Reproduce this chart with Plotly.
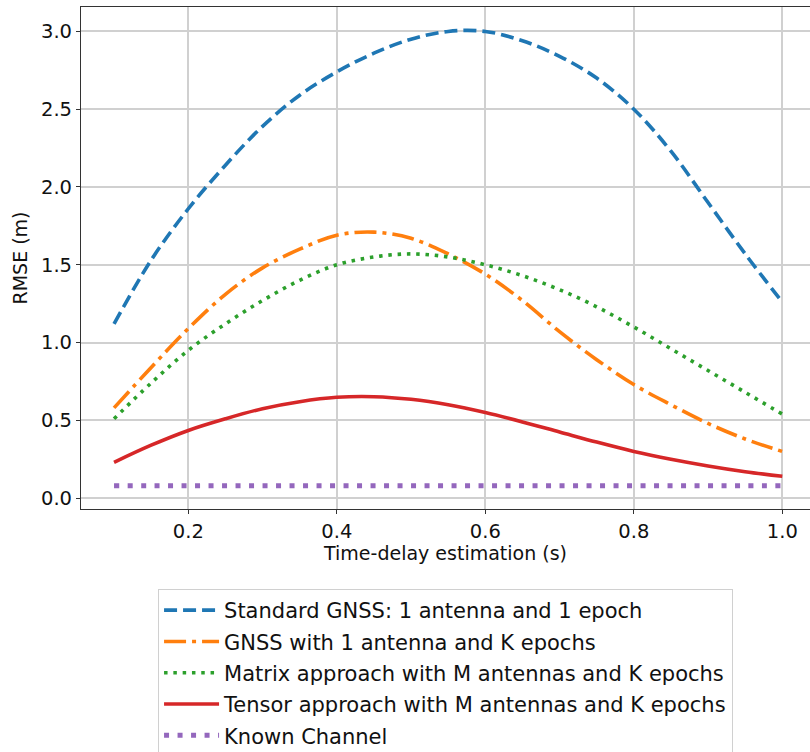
import plotly.graph_objects as go

x_vals = [0.10, 0.15, 0.20, 0.25, 0.30, 0.35, 0.40, 0.45, 0.50, 0.55,
          0.60, 0.65, 0.70, 0.75, 0.80, 0.85, 0.90, 0.95, 1.00]

standard_gnss = [1.12, 1.53, 1.86, 2.14, 2.39, 2.59, 2.74, 2.86, 2.95, 3.00,
                 3.00, 2.94, 2.84, 2.70, 2.50, 2.23, 1.90, 1.57, 1.26]
gnss_k_epochs = [0.58, 0.84, 1.09, 1.31, 1.48, 1.60, 1.69, 1.71, 1.67, 1.57,
                 1.44, 1.27, 1.07, 0.89, 0.73, 0.60, 0.48, 0.38, 0.30]
matrix_approach = [0.51, 0.74, 0.95, 1.12, 1.27, 1.40, 1.50, 1.55, 1.57, 1.55,
                   1.50, 1.43, 1.34, 1.23, 1.10, 0.96, 0.82, 0.68, 0.54]
tensor_approach = [0.23, 0.34, 0.435, 0.51, 0.575, 0.62, 0.648, 0.652, 0.635, 0.60,
                   0.55, 0.49, 0.425, 0.36, 0.30, 0.25, 0.207, 0.17, 0.14]
known_channel = [0.08] * len(x_vals)

names = [
    "Standard GNSS: 1 antenna and 1 epoch",
    "GNSS with 1 antenna and K epochs",
    "Matrix approach with M antennas and K epochs",
    "Tensor approach with M antennas and K epochs",
    "Known Channel",
]
series = [standard_gnss, gnss_k_epochs, matrix_approach, tensor_approach, known_channel]
colors = ["#1f77b4", "#ff7f0e", "#2ca02c", "#d62728", "#9467bd"]
dashes = ["13px,6px", "22px,6px,4px,6px", "3.5px,5.8px", "solid", "5px,8.5px"]
widths = [3.6, 3.6, 3.6, 3.6, 5]

fig = go.Figure()
for i, (nm, ys) in enumerate(zip(names, series)):
    fig.add_trace(go.Scatter(
        x=x_vals, y=ys, mode="lines", name=nm,
        line=dict(color=colors[i], width=widths[i], dash=dashes[i], shape="spline", smoothing=1.0),
        legendgroup=f"g{i}",
    ))

font_family = "DejaVu Sans, Arial, sans-serif"
fig.update_layout(
    width=810, height=752,
    margin=dict(l=81, r=0, t=7, b=243, autoexpand=False),
    paper_bgcolor="white", plot_bgcolor="white",
    font=dict(family=font_family, size=19, color="#111111"),
    showlegend=True,
    legend=dict(
        x=0.1057, y=-0.1594, xanchor="left", yanchor="top",
        xref="paper", yref="paper",
        bordercolor="#d0d0d0", borderwidth=1, bgcolor="white",
        font=dict(size=21, family=font_family),
        tracegroupgap=1, traceorder="grouped", itemwidth=55,
    ),
    xaxis=dict(
        range=[0.0555, 1.0373], automargin=False,
        tickvals=[0.2, 0.4, 0.6, 0.8, 1.0], ticktext=["0.2", "0.4", "0.6", "0.8", "1.0"],
        tickfont=dict(size=19.5),
        showgrid=True, gridcolor="#d0d0d0", gridwidth=1.5,
        showline=True, linecolor="#333333", linewidth=1.2, mirror=True,
        ticks="outside", ticklen=4, tickcolor="#333333",
        zeroline=False,
        title=dict(text="Time-delay estimation (s)", standoff=4, font=dict(size=19)),
    ),
    yaxis=dict(
        range=[-0.07, 3.157], automargin=False,
        tickvals=[0.0, 0.5, 1.0, 1.5, 2.0, 2.5, 3.0],
        ticktext=["0.0", "0.5", "1.0", "1.5", "2.0", "2.5", "3.0"],
        tickfont=dict(size=19.5),
        showgrid=True, gridcolor="#d0d0d0", gridwidth=1.5,
        showline=True, linecolor="#333333", linewidth=1.2, mirror=False,
        ticks="outside", ticklen=4, tickcolor="#333333",
        zeroline=False,
        title=dict(text="RMSE (m)", standoff=8, font=dict(size=19)),
    ),
)

fig.write_html("out.html", config={"displayModeBar": False},
               post_script="document.body.style.margin='0px';")
